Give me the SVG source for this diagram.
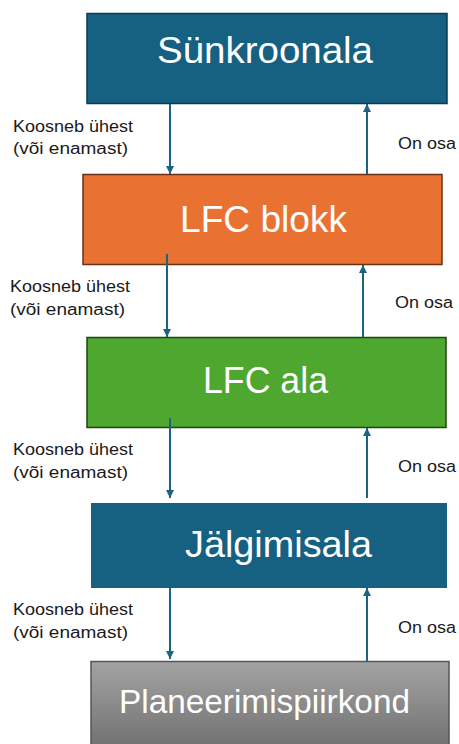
<svg xmlns="http://www.w3.org/2000/svg" width="459" height="744" viewBox="0 0 459 744">
<defs>
<style>
.box-text{font-family:"Liberation Sans",Arial,sans-serif;fill:#ffffff;}
.lbl{font-family:"Liberation Sans",Arial,sans-serif;font-size:16px;fill:#1a1a1a;}
.conn{stroke:#1b6283;stroke-width:2;fill:none;}
</style>
<marker id="ah" viewBox="0 0 10 10" refX="10" refY="5" markerWidth="4" markerHeight="4" orient="auto" markerUnits="strokeWidth">
<path d="M0,0 L10,5 L0,10 z" fill="#1b6283"/>
</marker>
<linearGradient id="gray" x1="0" y1="0" x2="0" y2="1">
<stop offset="0" stop-color="#a3a3a3"/>
<stop offset="1" stop-color="#6f6f6f"/>
</linearGradient>
</defs>
<rect width="459" height="744" fill="#ffffff"/>

<g id="node-synkroonala">
<rect x="87" y="13.5" width="360" height="90" fill="#166082" stroke="#0c3a50" stroke-width="1.5"/>
<text class="box-text" x="157" y="63" font-size="37" textLength="216" lengthAdjust="spacingAndGlyphs">Sünkroonala</text>
</g>

<g id="node-lfc-blokk">
<rect x="83" y="174.5" width="359" height="90" fill="#e97232" stroke="#6a3016" stroke-width="1.5"/>
<text class="box-text" x="180" y="232" font-size="37" textLength="167" lengthAdjust="spacingAndGlyphs">LFC blokk</text>
</g>

<g id="node-lfc-ala">
<rect x="87" y="337.5" width="359" height="90" fill="#4ea72e" stroke="#1f4512" stroke-width="1.5"/>
<text class="box-text" x="203" y="393" font-size="37" textLength="125" lengthAdjust="spacingAndGlyphs">LFC ala</text>
</g>

<g id="node-jalgimisala">
<rect x="91" y="503" width="356" height="85" fill="#166082"/>
<text class="box-text" x="185" y="557" font-size="37" textLength="187" lengthAdjust="spacingAndGlyphs">Jälgimisala</text>
</g>

<g id="node-planeerimispiirkond">
<rect x="91" y="661.5" width="358" height="90" fill="url(#gray)" stroke="#555555" stroke-width="1.5"/>
<text class="box-text" x="119" y="713" font-size="33" textLength="291" lengthAdjust="spacingAndGlyphs" fill="#f2f2f2">Planeerimispiirkond</text>
</g>

<g id="connectors">
<line class="conn" x1="170" y1="104" x2="170" y2="174" marker-end="url(#ah)"/>
<line class="conn" x1="367" y1="174" x2="367" y2="104" marker-end="url(#ah)"/>
<line class="conn" x1="167" y1="254" x2="167" y2="337" marker-end="url(#ah)"/>
<line class="conn" x1="363" y1="337" x2="363" y2="265" marker-end="url(#ah)"/>
<line class="conn" x1="170" y1="418" x2="170" y2="498" marker-end="url(#ah)"/>
<line class="conn" x1="367" y1="498" x2="367" y2="428" marker-end="url(#ah)"/>
<line class="conn" x1="170" y1="588" x2="170" y2="659" marker-end="url(#ah)"/>
<line class="conn" x1="367" y1="661" x2="367" y2="588" marker-end="url(#ah)"/>
</g>

<g id="labels">
<text class="lbl" x="13" y="132" textLength="120" lengthAdjust="spacingAndGlyphs">Koosneb ühest</text>
<text class="lbl" x="13" y="154" textLength="115" lengthAdjust="spacingAndGlyphs">(või enamast)</text>
<text class="lbl" x="398" y="149" textLength="58" lengthAdjust="spacingAndGlyphs">On osa</text>

<text class="lbl" x="10" y="292" textLength="120" lengthAdjust="spacingAndGlyphs">Koosneb ühest</text>
<text class="lbl" x="10" y="315" textLength="115" lengthAdjust="spacingAndGlyphs">(või enamast)</text>
<text class="lbl" x="395" y="308" textLength="58" lengthAdjust="spacingAndGlyphs">On osa</text>

<text class="lbl" x="13" y="455" textLength="120" lengthAdjust="spacingAndGlyphs">Koosneb ühest</text>
<text class="lbl" x="13" y="478" textLength="115" lengthAdjust="spacingAndGlyphs">(või enamast)</text>
<text class="lbl" x="398" y="472" textLength="58" lengthAdjust="spacingAndGlyphs">On osa</text>

<text class="lbl" x="13" y="615" textLength="120" lengthAdjust="spacingAndGlyphs">Koosneb ühest</text>
<text class="lbl" x="13" y="638" textLength="115" lengthAdjust="spacingAndGlyphs">(või enamast)</text>
<text class="lbl" x="398" y="633" textLength="58" lengthAdjust="spacingAndGlyphs">On osa</text>
</g>
</svg>
